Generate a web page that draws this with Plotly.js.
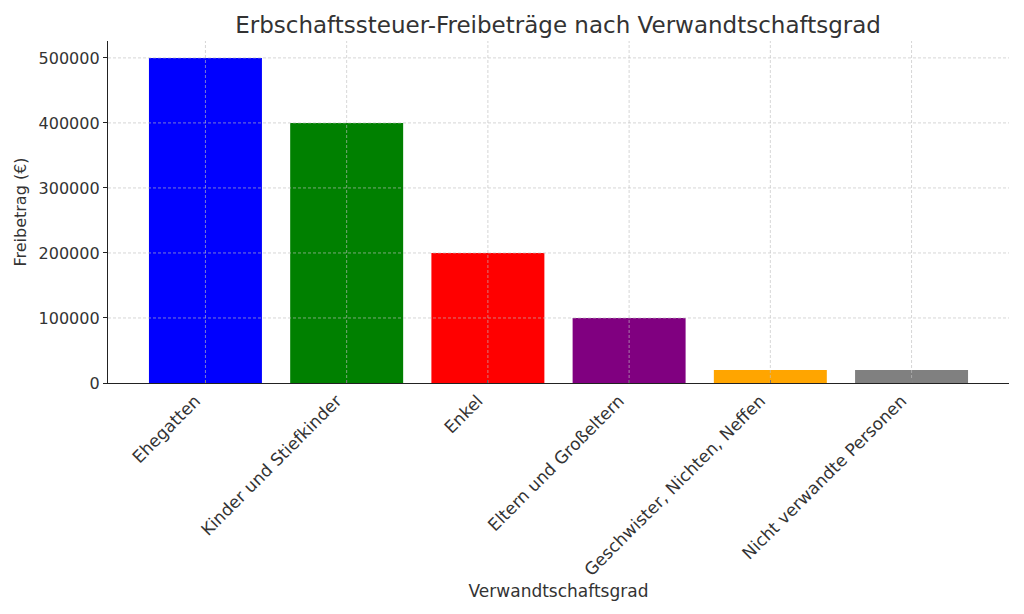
<!DOCTYPE html>
<html>
<head>
<meta charset="utf-8">
<script src="https://cdn.plot.ly/plotly-3.0.1.min.js"></script>
<style>html,body{margin:0;padding:0;background:#fff;}#chart{width:1024px;height:614px;}</style>
</head>
<body>
<div id="chart"></div>
<script>
const categories = ["Ehegatten", "Kinder und Stiefkinder", "Enkel", "Eltern und Großeltern", "Geschwister, Nichten, Neffen", "Nicht verwandte Personen"];
const freibetrag = [500000, 400000, 200000, 100000, 20000, 20000];
const barColors = ["#0000ff", "#008000", "#ff0000", "#800080", "#ffa500", "#808080"];
const yTicks = [0, 100000, 200000, 300000, 400000, 500000];

const font = "DejaVu Sans, sans-serif";
const txt = "#333333";
const gridStyle = {color: "rgba(190,190,190,0.8)", width: 0.8, dash: "3px,2px"};
const xIdx = categories.map((c, i) => i);

// grid lines drawn above the bars (as in the reference)
const gridShapes = [];
yTicks.filter(v => v > 0).forEach(v => gridShapes.push({
  type: "line", layer: "above", xref: "paper", x0: 0, x1: 1, yref: "y", y0: v, y1: v, line: gridStyle
}));
xIdx.forEach(i => gridShapes.push({
  type: "line", layer: "above", xref: "x", x0: i, x1: i, yref: "paper", y0: 0, y1: 1, line: gridStyle
}));

Plotly.newPlot("chart", [{
  type: "bar",
  x: xIdx,
  y: freibetrag,
  width: 0.8,
  marker: {color: barColors, line: {width: 0}},
  hoverinfo: "x+y"
}], {
  width: 1024, height: 614,
  paper_bgcolor: "#ffffff", plot_bgcolor: "#ffffff",
  margin: {l: 108, r: 15, t: 41, b: 231},
  showlegend: false,
  font: {family: font, color: txt},
  shapes: gridShapes,
  title: {text: "Erbschaftssteuer-Freibeträge nach Verwandtschaftsgrad", font: {family: font, size: 23, color: txt}, x: 0.545, xanchor: "center", y: 0.96, yanchor: "middle"},
  xaxis: {
    range: [-0.69, 5.69],
    tickmode: "array", tickvals: xIdx, ticktext: categories,
    tickangle: -45, tickfont: {family: font, size: 17, color: txt},
    ticklabelshift: -10,
    ticks: "inside", ticklen: 3, tickcolor: "#222",
    showline: true, linecolor: "#222", linewidth: 1.2, mirror: false,
    showgrid: false,
    zeroline: false,
    title: {text: "Verwandtschaftsgrad", font: {family: font, size: 17, color: txt}, standoff: 6},
    automargin: false
  },
  yaxis: {
    range: [0, 526000],
    tickmode: "array", tickvals: yTicks, ticktext: yTicks.map(String),
    tickfont: {family: font, size: 16, color: txt},
    ticks: "outside", ticklen: 4, tickcolor: "#222",
    showline: true, linecolor: "#222", linewidth: 1.2,
    showgrid: false,
    zeroline: false,
    title: {text: "Freibetrag (€)", font: {family: font, size: 16, color: txt}, standoff: 8},
    automargin: false
  }
}, {displayModeBar: false, staticPlot: true});
</script>
</body>
</html>
